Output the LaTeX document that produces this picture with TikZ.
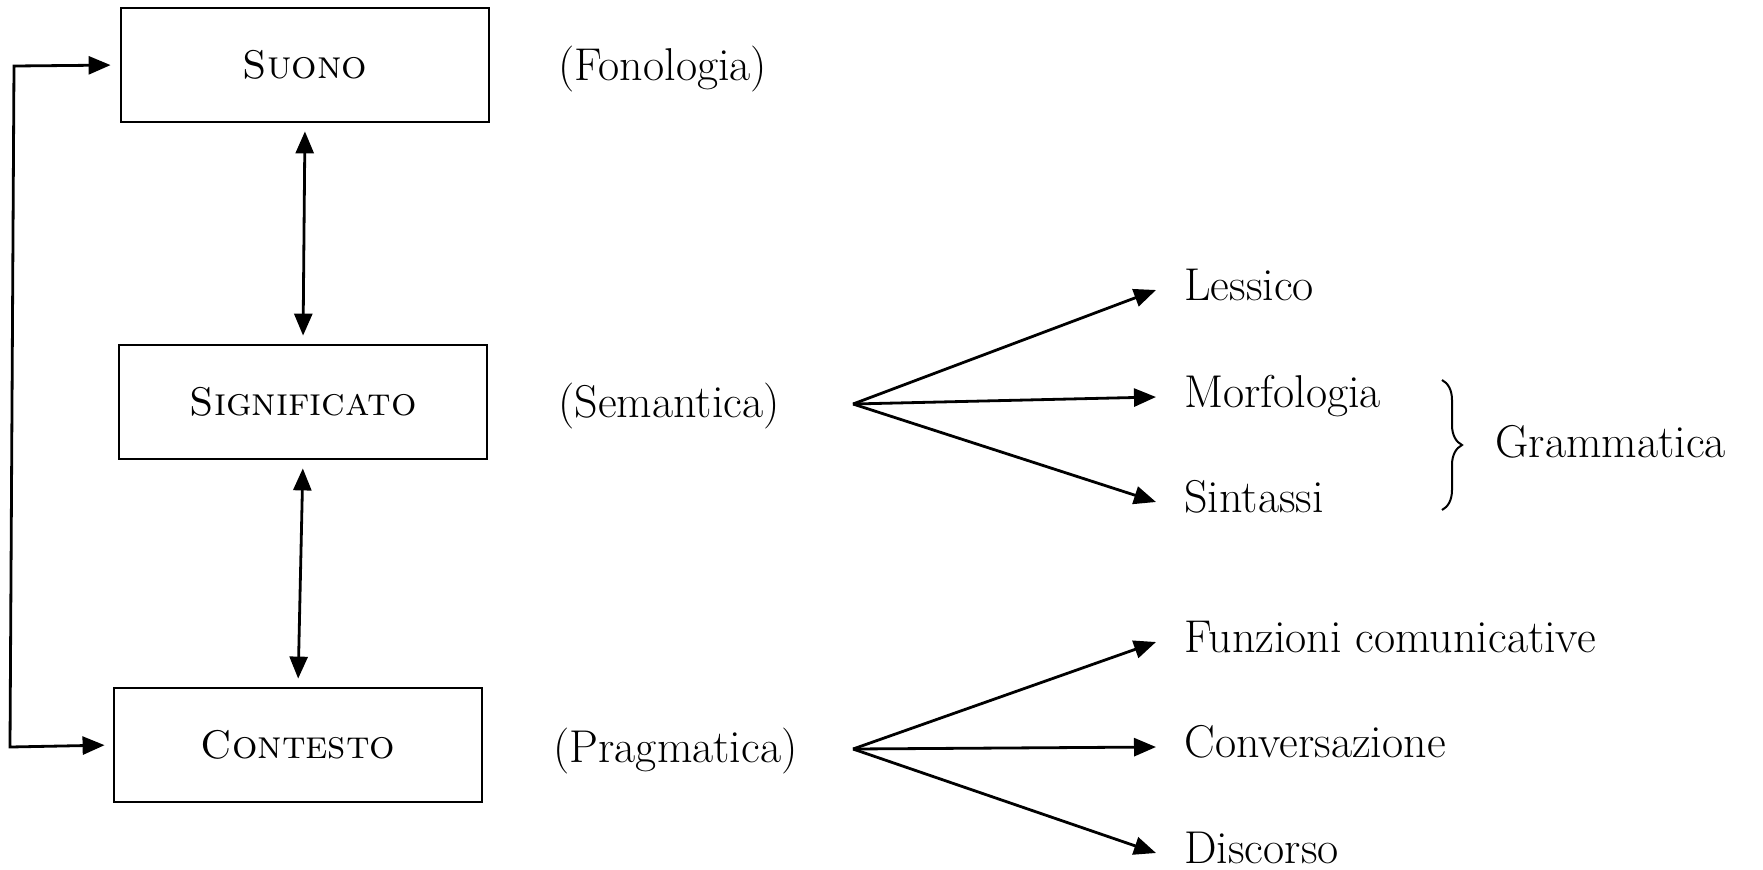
\documentclass[tikz,border=0pt]{standalone}
\usepackage{fontspec}
\usepackage{xcolor}
\usepackage{tikz}
\usetikzlibrary{shapes,arrows.meta,positioning,decorations.pathreplacing}

\begin{document}
\begin{tikzpicture}[%
      x=0.5pt, y=-0.5pt,
      livello/.style={draw, line width=1.4pt, minimum width=184pt, minimum height=57pt,
        font=\fontsize{20}{24}\selectfont\scshape},
      ramo/.style={font=\fontsize{23}{28}\selectfont, inner sep=0pt, anchor=base west},
      freccia/.style={line width=1.4pt, -{Triangle[length=11pt,width=9pt]}},
      doppia/.style={line width=1.4pt, {Triangle[length=11pt,width=9pt]}-{Triangle[length=11pt,width=9pt]}}]
      \useasboundingbox (0,0) rectangle (1763,869);
      % livelli
      \node[livello] (suono) at (305,65) {Suono};
      \node[livello] (significato) at (303,402) {Significato};
      \node[livello] (contesto) at (298,745) {Contesto};
      \node[ramo] (fonologia) at (558,80) {(Fonologia)};
      \node[ramo] (semantica) at (558,417) {(Semantica)};
      \node[ramo] (pragmatica) at (553,762) {(Pragmatica)};
      \draw[doppia, shorten <=4pt, shorten >=4pt] (suono.south) -- (significato.north);
      \draw[doppia, shorten <=4pt, shorten >=4pt] (significato.south) -- (contesto.north);
      \coordinate (ritornoA) at (14,66);
      \coordinate (ritornoB) at (10,747);
      \draw[doppia, shorten <=4.5pt, shorten >=4pt] (suono.west) -- (ritornoA) -- (ritornoB) -- (contesto.west);
      % semantica
      \coordinate (fanS) at (853,404);
      \node[ramo] (lessico) at (1184,300) {Lessico};
      \node[ramo] (morfologia) at (1184,407) {Morfologia};
      \node[ramo] (sintassi) at (1184,512) {Sintassi};
      \node[ramo] (grammatica) at (1495,457) {Grammatica};
      \foreach \n in {lessico,morfologia,sintassi}
        \draw[freccia] (fanS) -- ([xshift=-14pt,yshift=5pt]\n.base west);
      \coordinate (braceA) at (1442,380);
      \coordinate (braceB) at (1442,510);
      \draw[line width=1pt, decorate, decoration={brace, amplitude=10pt}] (braceA) -- (braceB);
      % pragmatica
      \coordinate (fanP) at (853,749);
      \node[ramo] (funzioni) at (1184,652) {Funzioni comunicative};
      \node[ramo] (conversazione) at (1184,757) {Conversazione};
      \node[ramo] (discorso) at (1184,863) {Discorso};
      \foreach \n in {funzioni,conversazione,discorso}
        \draw[freccia] (fanP) -- ([xshift=-14pt,yshift=5pt]\n.base west);
    \end{tikzpicture}
\end{document}
